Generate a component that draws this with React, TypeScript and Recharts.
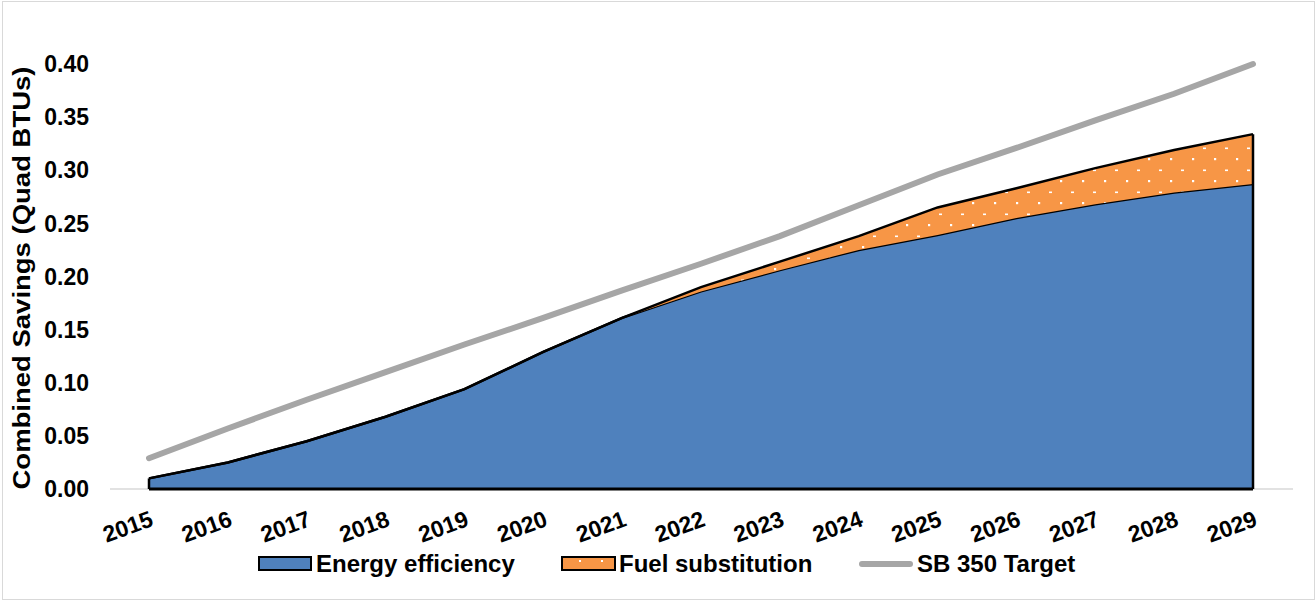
import { ComposedChart, Area, Line, XAxis, YAxis, ReferenceLine } from 'recharts';

const years = ['2015', '2016', '2017', '2018', '2019', '2020', '2021', '2022', '2023', '2024', '2025', '2026', '2027', '2028', '2029'];
const energyEfficiency = [0.010, 0.025, 0.045, 0.068, 0.094, 0.129, 0.161, 0.186, 0.206, 0.225, 0.239, 0.255, 0.268, 0.279, 0.287];
const fuelSubstitution = [0, 0, 0, 0, 0, 0, 0, 0.004, 0.008, 0.013, 0.026, 0.028, 0.034, 0.040, 0.047];
const sb350Target = [0.029, 0.057, 0.084, 0.110, 0.136, 0.161, 0.187, 0.212, 0.238, 0.267, 0.296, 0.321, 0.347, 0.372, 0.400];
const yTicks = [0, 0.05, 0.1, 0.15, 0.2, 0.25, 0.3, 0.35, 0.4];

const AZUL = '#4f81bd';
const LARANJA = '#f79646';
const CINZA = '#a6a6a6';
const FONTE = '"Liberation Sans", Arial, sans-serif';

const dados = years.map((ano, i) => ({
  ano,
  ee: energyEfficiency[i],
  fs: fuelSubstitution[i],
  meta: sb350Target[i]
}));

const ultimo = years.length - 1;
const topoFinal = energyEfficiency[ultimo] + fuelSubstitution[ultimo];

// titulo do eixo Y, esticado como no original
const renderTitulo = () => (
  <text
    x={30}
    y={278}
    transform="rotate(-90, 30, 278)"
    textAnchor="middle"
    textLength={423}
    lengthAdjust="spacingAndGlyphs"
    style={{ fontFamily: FONTE, fontSize: 24, fontWeight: 700, fill: '#000' }}
  >
    Combined Savings (Quad BTUs)
  </text>
);

function Legenda() {
  const estiloTexto = { fontFamily: FONTE, fontSize: 24, fontWeight: 700, fill: '#000' };
  return (
    <svg width={1316} height={40} style={{ position: 'absolute', left: 0, top: 544 }}>
      <rect x={259} y={13} width={52} height={13} fill={AZUL} stroke="#000" strokeWidth={2} />
      <text x={316} y={28} style={estiloTexto}>Energy efficiency</text>
      <rect x={562} y={13} width={53} height={13} fill={LARANJA} stroke="#000" strokeWidth={2} />
      <rect x={579} y={16} width={2} height={2} fill="#fff" />
      <rect x={601} y={16} width={2} height={2} fill="#fff" />
      <text x={619} y={28} style={estiloTexto}>Fuel substitution</text>
      <line x1={862} y1={20} x2={910} y2={20} stroke={CINZA} strokeWidth={6} strokeLinecap="round" />
      <text x={917} y={28} style={estiloTexto}>SB 350 Target</text>
    </svg>
  );
}

export default function App() {
  return (
    <div style={{ position: 'absolute', left: 0, top: 0, width: 1316, height: 601, background: '#fff' }}>
      <div style={{
        position: 'absolute',
        left: 2,
        top: 1,
        width: 1313,
        height: 599,
        border: '1px solid #d9d9d9',
        boxSizing: 'border-box'
      }} />
      <ComposedChart
        width={1316}
        height={601}
        data={dados}
        margin={{ top: 64, right: 23, left: 0, bottom: 0 }}
        style={{ position: 'absolute', left: 0, top: 0 }}
      >
        <defs>
          <pattern id="pontos" x={0} y={0} width={22} height={22} patternUnits="userSpaceOnUse">
            <rect width={22} height={22} fill={LARANJA} />
            <rect x={4} y={4} width={2.2} height={2.2} fill="#fff" />
            <rect x={15} y={15.5} width={3} height={1.6} fill="#fff" />
          </pattern>
        </defs>
        <XAxis
          dataKey="ano"
          scale="point"
          padding={{ left: 39, right: 40 }}
          axisLine={false}
          tickLine={false}
          tickSize={0}
          tickMargin={21}
          angle={-20}
          textAnchor="end"
          interval={0}
          height={112}
          tick={{ fill: '#000', fontSize: 23, fontWeight: 700, fontFamily: FONTE }}
        />
        <YAxis
          width={110}
          domain={[0, 0.4]}
          ticks={yTicks}
          tickFormatter={(v: number) => v.toFixed(2)}
          axisLine={false}
          tickLine={false}
          tickSize={0}
          tickMargin={21}
          tick={{ fill: '#000', fontSize: 23, fontWeight: 700, fontFamily: FONTE }}
          label={renderTitulo}
        />
        <Area
          type="linear"
          dataKey="ee"
          stackId="a"
          fill={AZUL}
          fillOpacity={1}
          stroke="#000"
          strokeWidth={2.5}
          isAnimationActive={false}
        />
        <Area
          type="linear"
          dataKey="fs"
          stackId="a"
          fill="url(#pontos)"
          fillOpacity={1}
          stroke="#000"
          strokeWidth={2.5}
          isAnimationActive={false}
        />
        <ReferenceLine y={0} stroke="#d9d9d9" strokeWidth={1.5} />
        <ReferenceLine
          segment={[{ x: years[0], y: 0 }, { x: years[ultimo], y: 0 }]}
          stroke="#000"
          strokeWidth={3}
        />
        <ReferenceLine
          segment={[{ x: years[0], y: 0 }, { x: years[0], y: energyEfficiency[0] }]}
          stroke="#000"
          strokeWidth={2.5}
        />
        <ReferenceLine
          segment={[{ x: years[ultimo], y: 0 }, { x: years[ultimo], y: topoFinal }]}
          stroke="#000"
          strokeWidth={2.5}
        />
        <Line
          type="linear"
          dataKey="meta"
          stroke={CINZA}
          strokeWidth={6}
          strokeLinecap="round"
          dot={false}
          activeDot={false}
          isAnimationActive={false}
        />
      </ComposedChart>
      <Legenda />
    </div>
  );
}
